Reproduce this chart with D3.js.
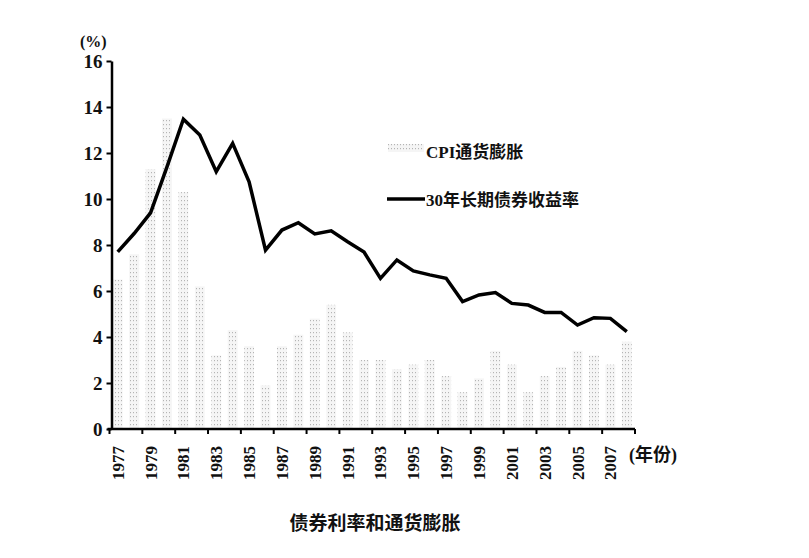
<!DOCTYPE html>
<html><head><meta charset="utf-8">
<script src="https://cdn.jsdelivr.net/npm/d3@7"></script>
<style>
html,body{margin:0;padding:0;background:#fff;}
svg{display:block;}
text{font-family:"Liberation Serif","Noto Sans CJK SC",serif;font-weight:bold;fill:#111;}
</style></head>
<body>
<svg id="chart" width="809" height="558"></svg>
<script>
const years = d3.range(1977, 2009);
const cpi = [6.5,7.6,11.3,13.5,10.3,6.2,3.2,4.3,3.6,1.9,3.6,4.1,4.8,5.4,4.2,3.0,3.0,2.6,2.8,3.0,2.3,1.6,2.2,3.4,2.8,1.6,2.3,2.7,3.4,3.2,2.8,3.8];
const bond = [7.7,8.5,9.4,11.4,13.47,12.78,11.19,12.42,10.75,7.78,8.65,8.97,8.48,8.62,8.14,7.69,6.55,7.35,6.87,6.7,6.55,5.54,5.83,5.93,5.46,5.39,5.07,5.07,4.52,4.84,4.81,4.23];
const yTicks = [0,2,4,6,8,10,12,14,16];
const xLabelYears = years.filter(y => (y - 1977) % 2 === 0);
const legendLabels = ["CPI通货膨胀", "30年长期债券收益率"];
const title = "债券利率和通货膨胀";

const svg = d3.select("#chart");
const defs = svg.append("defs");
const pat = defs.append("pattern").attr("id","dots").attr("patternUnits","userSpaceOnUse")
  .attr("width",3).attr("height",4);
pat.append("rect").attr("width",3).attr("height",4).attr("fill","#f5f5f5");
pat.append("rect").attr("x",1).attr("y",0).attr("width",1).attr("height",1.2).attr("fill","#b4b4b4");

const x = d3.scaleBand().domain(years).range([109.5, 635]).padding(0);
const y = d3.scaleLinear().domain([0,16]).range([429, 61]);

// bars
svg.append("g").selectAll("rect").data(years).join("rect")
  .attr("x", d => x(d) + x.bandwidth()*0.2)
  .attr("width", x.bandwidth()*0.6)
  .attr("y", (d,i) => y(cpi[i]))
  .attr("height", (d,i) => y(0) - y(cpi[i]))
  .attr("fill","url(#dots)");

// line
const line = d3.line().x((d,i) => x(years[i]) + x.bandwidth()/2).y(d => y(d));
svg.append("path").datum(bond).attr("d", line)
  .attr("fill","none").attr("stroke","#000").attr("stroke-width",3.5).attr("stroke-linejoin","miter");

// y axis
const yAxis = svg.append("g").attr("transform","translate(111.5,0)")
  .call(d3.axisLeft(y).tickValues(yTicks).tickSize(5).tickSizeOuter(0).tickPadding(4));
yAxis.select(".domain").attr("stroke","#000").attr("stroke-width",2.5);
yAxis.selectAll(".tick line").attr("stroke","#000").attr("stroke-width",2);
yAxis.selectAll("text").attr("font-size",19).style("font-family",'"Liberation Serif",serif').attr("fill","#111");

// x axis
const tickPos = years.filter(yr => (yr-1977)%2===0).map(yr => x(yr)).concat([x(2008)+x.bandwidth()]);
const xg = svg.append("g");
xg.append("line").attr("x1",x.range()[0]-2).attr("x2",x.range()[1]).attr("y1",y(0)).attr("y2",y(0))
  .attr("stroke","#000").attr("stroke-width",2.5);
xg.selectAll("line.t").data(tickPos).join("line").attr("class","t")
  .attr("x1",d=>d).attr("x2",d=>d).attr("y1",y(0)).attr("y2",y(0)+5)
  .attr("stroke","#000").attr("stroke-width",2);
xg.selectAll("text").data(xLabelYears).join("text")
  .attr("transform", d => `translate(${x(d)+x.bandwidth()/2+6},${446}) rotate(-90)`)
  .attr("text-anchor","end").attr("font-size",17).text(d => d);

svg.append("text").attr("x",80).attr("y",47).attr("font-size",16).text("(%)");
svg.append("text").attr("x",629).attr("y",461).attr("font-size",18).text("(年份)");

// legend
svg.append("rect").attr("x",388).attr("y",144).attr("width",36).attr("height",8).attr("fill","url(#dots)");
svg.append("text").attr("x",426).attr("y",158).attr("font-size",17).text(legendLabels[0]);
svg.append("line").attr("x1",387).attr("x2",425).attr("y1",199).attr("y2",199).attr("stroke","#000").attr("stroke-width",3.5);
svg.append("text").attr("x",426).attr("y",206).attr("font-size",17).text(legendLabels[1]);

svg.append("text").attr("x",375).attr("y",530).attr("text-anchor","middle").attr("font-size",19).text(title);
</script>
</body></html>
